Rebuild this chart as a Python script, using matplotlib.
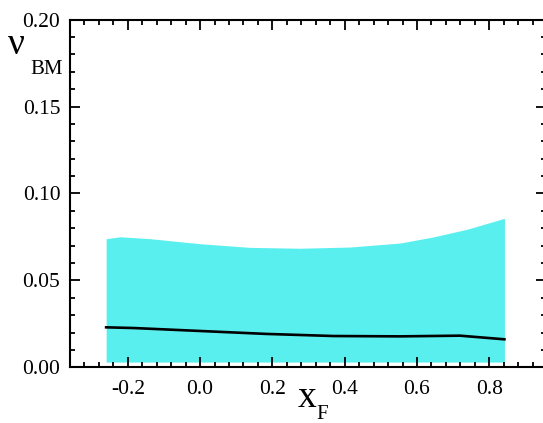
import numpy as np
import matplotlib
matplotlib.use("Agg")
import matplotlib.pyplot as plt
from matplotlib.ticker import MultipleLocator

# band limits and central curve of nu_BM vs x_F
x_band = [-0.260, -0.221, -0.138, 0.0, 0.138, 0.277, 0.415, 0.553, 0.645, 0.738, 0.842]
band_hi = [0.0740, 0.0751, 0.0740, 0.0711, 0.0690, 0.0685, 0.0692, 0.0715, 0.0750, 0.0794, 0.0857]
band_lo = [0.003, 0.003, 0.003, 0.003, 0.003, 0.003, 0.003, 0.003, 0.003, 0.003, 0.003]

x_line = [-0.260, -0.184, 0.0, 0.184, 0.369, 0.553, 0.719, 0.842]
nu_line = [0.0230, 0.0226, 0.0209, 0.0192, 0.0180, 0.0178, 0.0182, 0.0161]

xticks = [-0.2, 0.0, 0.2, 0.4, 0.6, 0.8]
yticks = [0.00, 0.05, 0.10, 0.15, 0.20]

plt.rcParams['font.family'] = ['Liberation Serif', 'DejaVu Serif']

W, H = 543, 423
fig = plt.figure(figsize=(W / 100, H / 100), dpi=100)
# right spine sits just past the figure edge
ax = fig.add_axes([70 / W, (H - 367.3) / H, 476 / W, 347.6 / H])

ax.fill_between(x_band, band_lo, band_hi, color='#5aefef', lw=0)
ax.plot(x_line, nu_line, color='black', lw=1.9)

ax.set_xlim(-0.36, 0.957)
ax.set_ylim(0.0, 0.20)
ax.set_xticks(xticks)
ax.set_xticklabels(['%.1f' % v for v in xticks])
ax.set_yticks(yticks)
ax.set_yticklabels(['%.2f' % v for v in yticks])
ax.xaxis.set_minor_locator(MultipleLocator(0.04))
ax.yaxis.set_minor_locator(MultipleLocator(0.01))
ax.tick_params(which='both', direction='in', top=True, right=True, width=1.3)
ax.tick_params(which='major', length=7, labelsize=15.5, pad=7)
ax.tick_params(which='minor', length=3.5)
ax.tick_params(axis='x', which='major', pad=9)
for s in ax.spines.values():
    s.set_linewidth(1.5)

# axis titles
fig.text(8 / W, 1 - 54 / H, 'ν', fontsize=27, ha='left', va='baseline')
fig.text(30 / W, 1 - 74 / H, 'BM', fontsize=15, ha='left', va='baseline')
fig.text(298 / W, 1 - 407 / H, 'x', fontsize=27, ha='left', va='baseline')
fig.text(316 / W, 1 - 419 / H, 'F', fontsize=15, ha='left', va='baseline')

fig.savefig('out.png', dpi=100)
